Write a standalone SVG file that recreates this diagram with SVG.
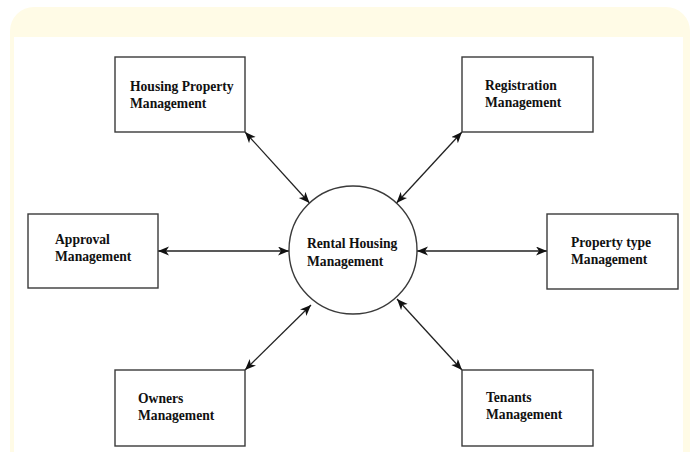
<svg xmlns="http://www.w3.org/2000/svg" width="692" height="452" viewBox="0 0 692 452">
<defs>
<style>
.box{fill:#fff;stroke:#3a3a3a;stroke-width:1.4}
.lbl{font-family:"Liberation Serif","Times New Roman",serif;font-weight:bold;font-size:13.6px;fill:#111}
.con{stroke:#222;stroke-width:1.3;fill:none;marker-start:url(#ah);marker-end:url(#ah)}
</style>
<marker id="ah" markerUnits="userSpaceOnUse" markerWidth="12" markerHeight="10" refX="11" refY="4.5" orient="auto-start-reverse">
<path d="M0,0 L11,4.5 L0,9 L3,4.5 z" fill="#111"/>
</marker>
</defs>
<rect x="0" y="0" width="692" height="452" fill="#fff"/>
<rect x="10" y="7" width="680" height="470" rx="24" fill="#fffbe6"/>
<rect x="14" y="37" width="669" height="420" fill="#fff"/>
<g id="connectors">
<line class="con" x1="245" y1="132" x2="309.5" y2="203"/>
<line class="con" x1="462" y1="132" x2="396.5" y2="203"/>
<line class="con" x1="158" y1="251" x2="289" y2="251"/>
<line class="con" x1="547" y1="251" x2="417" y2="251"/>
<line class="con" x1="245" y1="370" x2="311" y2="305"/>
<line class="con" x1="462" y1="370" x2="397" y2="299"/>
</g>
<g id="center">
<circle cx="353" cy="250" r="64" fill="#fff" stroke="#3a3a3a" stroke-width="1.4"/>
<text class="lbl" x="307" y="248">Rental Housing</text>
<text class="lbl" x="307" y="266">Management</text>
</g>
<g id="housing">
<rect class="box" x="115" y="57" width="130" height="75"/>
<text class="lbl" x="130" y="91">Housing Property</text>
<text class="lbl" x="130" y="108">Management</text>
</g>
<g id="registration">
<rect class="box" x="462" y="57" width="131" height="75"/>
<text class="lbl" x="485" y="90">Registration</text>
<text class="lbl" x="485" y="107">Management</text>
</g>
<g id="approval">
<rect class="box" x="28" y="214" width="130" height="74"/>
<text class="lbl" x="55" y="244">Approval</text>
<text class="lbl" x="55" y="261">Management</text>
</g>
<g id="propertytype">
<rect class="box" x="547" y="214" width="131" height="75"/>
<text class="lbl" x="571" y="247">Property type</text>
<text class="lbl" x="571" y="264">Management</text>
</g>
<g id="owners">
<rect class="box" x="115" y="370" width="130" height="76"/>
<text class="lbl" x="138" y="403">Owners</text>
<text class="lbl" x="138" y="420">Management</text>
</g>
<g id="tenants">
<rect class="box" x="462" y="370" width="131" height="76"/>
<text class="lbl" x="486" y="402">Tenants</text>
<text class="lbl" x="486" y="419">Management</text>
</g>
</svg>
